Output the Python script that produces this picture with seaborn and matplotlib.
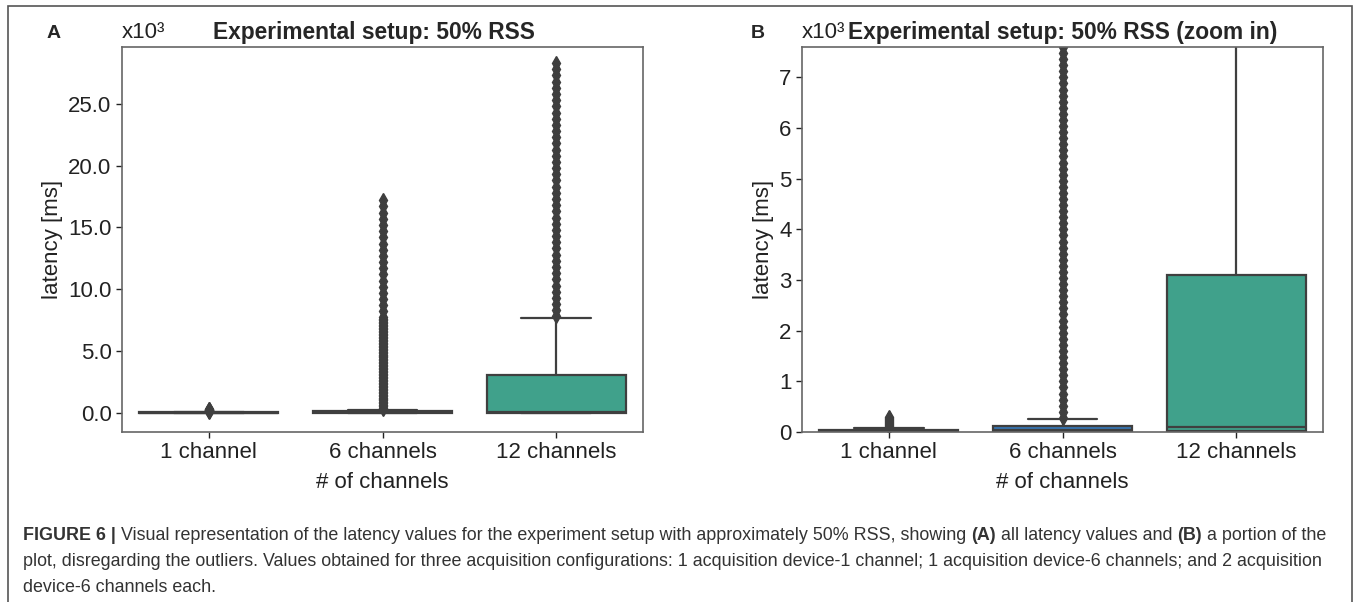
# Latency box plots, 50% RSS setup (full range + zoom in)

import numpy as np
import pandas as pd
import seaborn as sns
import matplotlib.pyplot as plt
from matplotlib.patches import Rectangle

# -------------------------------
# 1. Data (latency in ms)
# -------------------------------
channels = ["1 channel", "6 channels", "12 channels"]

# box summary: lower whisker, Q1, median, Q3, upper whisker
box_1ch = [0, 10, 20, 40, 80]
box_6ch = [0, 5, 40, 110, 265]
box_12ch = [0, 20, 90, 3100, 7700]

# how many samples sit at each summary value (keeps the quartiles where they are)
box_counts = [1, 150, 130, 118, 1]

# outliers (they show up as dense columns in the figure)
out_1ch = [100, 120, 140, 160, 180, 200, 220, 240, 260, 280, 300]
out_6ch = [280, 400, 520, 640, 760, 880, 1000, 1120, 1240, 1360, 1480,
           1600, 1720, 1840, 1960, 2080, 2200, 2320, 2440, 2560, 2680,
           2800, 2920, 3040, 3160, 3280, 3400, 3520, 3640, 3760, 3880,
           4000, 4120, 4240, 4360, 4480, 4600, 4720, 4840, 4960, 5080,
           5200, 5320, 5440, 5560, 5680, 5800, 5920, 6040, 6160, 6280,
           6400, 6520, 6640, 6760, 6880, 7000, 7120, 7240, 7360, 7480,
           7600, 7720, 8200, 8700, 9200, 9700, 10200, 10700, 11200, 11700,
           12200, 12700, 13200, 13700, 14200, 14700, 15200, 15700, 16200,
           16700, 17200]
out_12ch = [7800, 8300, 8800, 9300, 9800, 10300, 10800, 11300, 11800,
            12300, 12800, 13300, 13800, 14300, 14800, 15300, 15800, 16300,
            16800, 17300, 17800, 18300, 18800, 19300, 19800, 20300, 20800,
            21300, 21800, 22300, 22800, 23300, 23800, 24300, 24800, 25300,
            25800, 26300, 26800, 27300, 27800, 28300]

box_colors = ["#2c3e7a", "#3776b3", "#40a18b"]

rows = []
for ch, box, out in zip(channels, [box_1ch, box_6ch, box_12ch],
                        [out_1ch, out_6ch, out_12ch]):
    vals = list(np.repeat(box, box_counts)) + out
    rows += [(ch, v) for v in vals]
df = pd.DataFrame(rows, columns=["channels", "latency"])

# -------------------------------
# 2. Figure
# -------------------------------
sns.set_theme(style="ticks")
plt.rcParams['font.family'] = ['Liberation Sans', 'DejaVu Sans']

W, H = 1358, 602
fig = plt.figure(figsize=(W / 100, H / 100), dpi=100)

def px(x, y):
    return x / W, 1 - y / H

# outer frame
fig.patches.append(Rectangle((7.5 / W, -0.1), (1351.5 - 7.5) / W, 1.1 - 5.5 / H,
                             transform=fig.transFigure, fill=False,
                             edgecolor="#555555", linewidth=1.2))

axA = fig.add_axes([122 / W, 1 - 432 / H, 521 / W, 385 / H])
axB = fig.add_axes([802 / W, 1 - 432 / H, 521 / W, 385 / H])

line_c = "#3f3f3f"
for ax in (axA, axB):
    sns.boxplot(data=df, x="channels", y="latency", hue="channels",
                palette=box_colors, legend=False, ax=ax, width=0.8,
                linecolor=line_c, linewidth=1.6, saturation=1,
                flierprops=dict(marker="d", markersize=7, markeredgewidth=1,
                                markerfacecolor=line_c, markeredgecolor=line_c))
    ax.set_xlabel("# of channels", fontsize=16, color="#222222", labelpad=6)
    ax.set_ylabel("latency [ms]", fontsize=16, color="#222222")
    ax.tick_params(labelsize=16, colors="#222222", length=4, width=1)
    for s in ax.spines.values():
        s.set_color("#666666")
        s.set_linewidth(1.2)

axA.set_ylim(-1550, 29600)
axA.set_yticks([0, 5000, 10000, 15000, 20000, 25000])
axA.set_yticklabels(["0.0", "5.0", "10.0", "15.0", "20.0", "25.0"])

axB.set_ylim(0, 7600)
axB.set_yticks([0, 1000, 2000, 3000, 4000, 5000, 6000, 7000])
axB.set_yticklabels(["0", "1", "2", "3", "4", "5", "6", "7"])

# panel letters, scale marks and titles
fig.text(*px(54, 33), "A", fontsize=14, weight="bold", ha="center", va="center")
fig.text(*px(122, 33), "x10³", fontsize=16, ha="left", va="center", color="#222222")
fig.text(*px(374, 33), "Experimental setup: 50% RSS", fontsize=16.4,
         weight="bold", ha="center", va="center")

fig.text(*px(758, 33), "B", fontsize=14, weight="bold", ha="center", va="center")
fig.text(*px(802, 33), "x10³", fontsize=16, ha="left", va="center", color="#222222")
fig.text(*px(1063, 33), "Experimental setup: 50% RSS (zoom in)", fontsize=16.4,
         weight="bold", ha="center", va="center")

# -------------------------------
# 3. Caption
# -------------------------------
caption = [
    [("FIGURE 6 |", "bold"),
     (" Visual representation of the latency values for the experiment setup with "
      "approximately 50% RSS, showing ", "normal"),
     ("(A)", "bold"), (" all latency values and ", "normal"),
     ("(B)", "bold"), (" a portion of the", "normal")],
    [("plot, disregarding the outliers. Values obtained for three acquisition "
      "configurations: 1 acquisition device-1 channel; 1 acquisition device-6 "
      "channels; and 2 acquisition", "normal")],
    [("device-6 channels each.", "normal")],
]
cap_y = [535, 561, 587]

renderer = fig.canvas.get_renderer()
for line, y in zip(caption, cap_y):
    x = 23 / W
    for s, w in line:
        t = fig.text(x, 1 - y / H, s, fontsize=12.9, weight=w, color="#333333",
                     ha="left", va="center")
        x += t.get_window_extent(renderer).width / fig.bbox.width

fig.savefig("out.png", dpi=100, facecolor="white")
